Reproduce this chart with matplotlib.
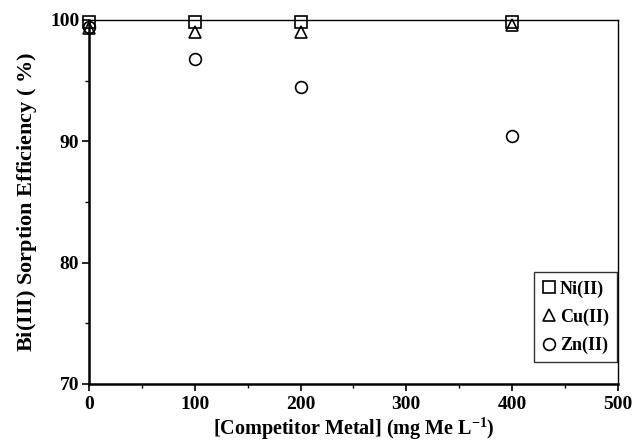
import matplotlib
matplotlib.use("Agg")
import matplotlib.pyplot as plt
from matplotlib.ticker import MultipleLocator

plt.rcParams['font.family'] = ['Liberation Serif', 'DejaVu Serif']
plt.rcParams['mathtext.fontset'] = 'custom'
plt.rcParams['mathtext.rm'] = 'Liberation Serif:bold'
plt.rcParams['mathtext.bf'] = 'Liberation Serif:bold'
plt.rcParams['mathtext.it'] = 'Liberation Serif:bold:italic'

conc = [0, 100, 200, 400]
ni = [99.8, 99.8, 99.8, 99.8]
cu = [99.3, 99.0, 99.0, 99.6]
zn = [99.4, 96.8, 94.5, 90.4]
labels = ['Ni(II)', 'Cu(II)', 'Zn(II)']

fig = plt.figure(figsize=(6.33, 4.43), dpi=100)
ax = fig.add_axes([0.1406, 0.1332, 0.976 - 0.1406, 0.955 - 0.1332])

kw = dict(linestyle='none', markerfacecolor='none', markeredgecolor='black',
          markeredgewidth=1.2, clip_on=False, zorder=5)
ax.plot(conc, ni, marker='s', markersize=8.5, label=labels[0], **kw)
ax.plot(conc, cu, marker='^', markersize=8.5, label=labels[1], **kw)
ax.plot(conc, zn, marker='o', markersize=8.5, label=labels[2], **kw)

ax.set_xlim(0, 500)
ax.set_ylim(70, 100)
ax.xaxis.set_major_locator(MultipleLocator(100))
ax.xaxis.set_minor_locator(MultipleLocator(50))
ax.yaxis.set_major_locator(MultipleLocator(10))
ax.yaxis.set_minor_locator(MultipleLocator(5))
ax.tick_params(which='both', direction='out', top=False, right=False)
ax.tick_params(which='major', length=5, width=1.2, labelsize=14, pad=2)
ax.tick_params(axis='x', which='major', pad=4)
ax.tick_params(which='minor', length=3, width=1.0)
for lab in ax.get_xticklabels() + ax.get_yticklabels():
    lab.set_fontweight('bold')
for s in ['left', 'bottom']:
    ax.spines[s].set_linewidth(1.8)
for s in ['top', 'right']:
    ax.spines[s].set_linewidth(1.0)

ax.set_xlabel('[Competitor Metal] (mg Me L$^{\\mathbf{-1}}$)', fontsize=14.5, fontweight='bold', labelpad=2)
ax.set_ylabel('Bi(III) Sorption Efficiency ( $\\mathit{\\%}$)', fontsize=16, fontweight='bold', labelpad=8)

leg = ax.legend(loc='lower right', bbox_to_anchor=(0.998, 0.06), frameon=True, fancybox=False,
                edgecolor='black', prop={'weight': 'bold', 'size': 13},
                handlelength=0.75, handletextpad=0.2, borderpad=0.45, labelspacing=0.6,
                borderaxespad=0.0, markerscale=1.0)
leg.get_frame().set_linewidth(1.0)

fig.savefig('out.png', dpi=100)
